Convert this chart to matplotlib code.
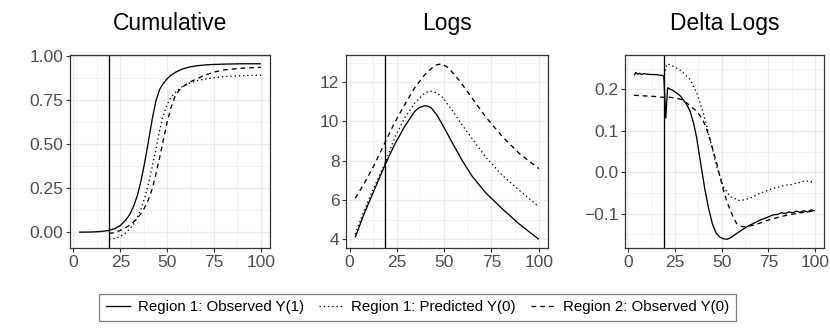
import numpy as np
import matplotlib
matplotlib.use("Agg")
import matplotlib.pyplot as plt
from matplotlib.lines import Line2D

plt.rcParams['font.family'] = ['Liberation Sans', 'DejaVu Sans']

# ---------------------------------------------------------------- data
titles = ["Cumulative", "Logs", "Delta Logs"]
labels = ["Region 1: Observed Y(1)", "Region 1: Predicted Y(0)", "Region 2: Observed Y(0)"]
intervention = 19

# Cumulative
cum_obs_x = [3, 10, 15, 19, 22, 25, 28, 30, 32, 34, 36, 38, 40, 42, 44, 46, 48, 50, 52, 55, 58, 62, 66, 72, 80, 90, 100]
cum_obs_y = [0.000, 0.001, 0.004, 0.010, 0.020, 0.038, 0.070, 0.100, 0.145, 0.205, 0.290, 0.395, 0.515, 0.640,
             0.745, 0.810, 0.845, 0.870, 0.890, 0.910, 0.925, 0.937, 0.944, 0.950, 0.953, 0.955, 0.955]
cum_pred_x = [19, 21, 23, 25, 28, 30, 32, 34, 36, 38, 40, 42, 44, 46, 48, 50, 52, 55, 58, 62, 67, 73, 80, 90, 100]
cum_pred_y = [-0.040, -0.038, -0.033, -0.024, -0.003, 0.018, 0.045, 0.082, 0.130, 0.195, 0.275, 0.370, 0.470,
              0.580, 0.665, 0.725, 0.765, 0.800, 0.825, 0.845, 0.862, 0.873, 0.882, 0.888, 0.890]
cum_r2_x = [19, 22, 25, 28, 30, 32, 34, 36, 38, 40, 42, 44, 46, 48, 50, 52, 54, 56, 58, 61, 65, 70, 75, 80, 90, 100]
cum_r2_y = [-0.008, -0.002, 0.010, 0.027, 0.040, 0.057, 0.078, 0.105, 0.140, 0.185, 0.245, 0.330, 0.425, 0.525,
            0.625, 0.705, 0.765, 0.800, 0.822, 0.845, 0.866, 0.890, 0.908, 0.920, 0.930, 0.935]

# Logs
log_obs_x = [3, 7.7, 13, 18.7, 23.7, 29.1, 34.4, 37, 39.8, 41.5, 43.3, 46, 48.7, 54, 59.4, 64.7, 71.8, 80.7, 89.7, 100]
log_obs_y = [4.09, 5.29, 6.49, 7.77, 8.80, 9.74, 10.51, 10.72, 10.80, 10.78, 10.68, 10.35, 9.91, 8.97, 8.03,
             7.22, 6.38, 5.55, 4.77, 4.00]
log_pred_x = [3, 7.7, 13, 18.7, 23.7, 29.1, 34.4, 39.8, 41.5, 43.7, 46, 48.7, 54, 59.4, 64.7, 71.8, 80.7, 89.7, 100]
log_pred_y = [4.26, 5.46, 6.66, 7.85, 9.14, 10.17, 10.94, 11.45, 11.52, 11.54, 11.45, 11.28, 10.60, 9.83, 9.14,
              8.20, 7.26, 6.49, 5.66]
log_r2_x = [3, 7.7, 13, 18.7, 23.7, 29.1, 34.4, 39.8, 45.1, 48.7, 52.2, 57.6, 64.7, 71.8, 80.7, 89.7, 100]
log_r2_y = [6.09, 6.83, 7.77, 8.92, 9.91, 10.85, 11.71, 12.39, 12.86, 12.94, 12.74, 12.14, 11.20, 10.25, 9.23,
            8.37, 7.60]

# Delta Logs
dl_obs_x = [3, 4, 5, 6, 7, 8, 10, 12, 14, 16, 18, 19, 20, 21, 24, 27.7, 31, 33, 35, 36.5, 38, 39.5, 41, 43, 45,
            47, 49, 51, 53, 55, 58, 63.4, 70.5, 77.7, 80, 82, 84, 86, 88, 90, 92, 94, 96, 98, 100]
dl_obs_y = [0.234, 0.241, 0.237, 0.239, 0.236, 0.238, 0.237, 0.236, 0.236, 0.235, 0.234, 0.232, 0.131, 0.204,
            0.197, 0.185, 0.165, 0.148, 0.117, 0.085, 0.042, 0.000, -0.042, -0.088, -0.125, -0.147, -0.157,
            -0.161, -0.162, -0.158, -0.148, -0.132, -0.116, -0.103, -0.102, -0.098, -0.100, -0.096, -0.098,
            -0.094, -0.097, -0.093, -0.096, -0.091, -0.094]
dl_pred_x = [19, 20, 21, 24, 28.6, 33, 36.6, 40.2, 43.8, 47.3, 50.9, 54.5, 59.8, 65.2, 70.5, 77.7, 84.8, 88, 90,
             92, 94, 95.5, 97, 98.5, 100]
dl_pred_y = [0.225, 0.255, 0.262, 0.256, 0.244, 0.224, 0.192, 0.143, 0.078, 0.014, -0.035, -0.059, -0.069,
             -0.063, -0.051, -0.039, -0.031, -0.030, -0.026, -0.025, -0.022, -0.021, -0.024, -0.023, -0.025]
dl_r2_x = [3, 6, 10, 14, 18.4, 22, 25.9, 28.5, 31.3, 34, 36.6, 38.5, 40.2, 42, 43.8, 45.5, 47.3, 49, 50.9, 52.7,
           54.5, 56.3, 58, 59.8, 61.6, 64, 67, 70.5, 74.1, 77.7, 81.3, 84.8, 88.4, 92, 96, 100]
dl_r2_y = [0.186, 0.185, 0.184, 0.183, 0.181, 0.181, 0.179, 0.175, 0.167, 0.157, 0.147, 0.136, 0.123, 0.103,
           0.078, 0.051, 0.022, -0.010, -0.043, -0.070, -0.091, -0.110, -0.124, -0.130, -0.132, -0.131, -0.128,
           -0.123, -0.117, -0.112, -0.108, -0.104, -0.101, -0.098, -0.096, -0.093]

panels = [
    [(cum_obs_x, cum_obs_y), (cum_pred_x, cum_pred_y), (cum_r2_x, cum_r2_y)],
    [(log_obs_x, log_obs_y), (log_pred_x, log_pred_y), (log_r2_x, log_r2_y)],
    [(dl_obs_x, dl_obs_y), (dl_pred_x, dl_pred_y), (dl_r2_x, dl_r2_y)],
]
yticks = [[0, 0.25, 0.5, 0.75, 1.0], [4, 6, 8, 10, 12], [-0.1, 0.0, 0.1, 0.2]]
ytick_labels = [["0.00", "0.25", "0.50", "0.75", "1.00"], ["4", "6", "8", "10", "12"],
                ["\u22120.1", "0.0", "0.1", "0.2"]]
xticks = [0, 25, 50, 75, 100]

# ---------------------------------------------------------------- plot
W, H = 830, 332
fig = plt.figure(figsize=(W / 100, H / 100), dpi=100)
lefts = [70, 346, 625]
widths = [200, 202, 199]
top_px, bot_px = 55, 248

styles = [dict(ls='-'), dict(ls=(0, (1, 2.2))), dict(ls=(0, (3.6, 3.0)))]
lw = 0.95
grid_col = '#EBEBEB'
frame_col = '#333333'
text_col = '#4D4D4D'

def expand(lo, hi, f=0.05):
    d = (hi - lo) * f
    return lo - d, hi + d

def minors(major, lo, hi):
    step = major[1] - major[0]
    cand = [major[0] - step / 2] + [m + step / 2 for m in major]
    return [c for c in cand if lo <= c <= hi]

for i in range(3):
    ax = fig.add_axes([lefts[i] / W, (H - bot_px) / H, widths[i] / W, (bot_px - top_px) / H])
    allx, ally = [], []
    for (xs, ys), st in zip(panels[i], styles):
        ax.plot(xs, ys, color='black', lw=lw, solid_capstyle='butt', dash_capstyle='butt', **st)
        allx += xs
        ally += ys
    ax.axvline(intervention, color='black', lw=lw)
    xl = expand(min(allx), max(allx))
    yl = expand(min(ally), max(ally))
    ax.set_xlim(xl)
    ax.set_ylim(yl)
    ax.set_xticks(xticks)
    ax.set_xticklabels([str(t) for t in xticks])
    ax.set_yticks(yticks[i])
    ax.set_yticklabels(ytick_labels[i])
    ax.set_xticks(minors(xticks, *xl), minor=True)
    ax.set_yticks(minors(yticks[i], *yl), minor=True)
    ax.grid(True, which='major', color=grid_col, lw=0.9)
    ax.grid(True, which='minor', color=grid_col, lw=0.45)
    ax.set_axisbelow(True)
    ax.tick_params(which='major', length=3.2, width=0.8, color=frame_col, labelsize=12.5,
                   labelcolor=text_col, pad=1.5)
    ax.tick_params(which='minor', length=0)
    for s in ax.spines.values():
        s.set_color(frame_col)
        s.set_linewidth(0.9)
    fig.text((lefts[i] + widths[i] / 2) / W, (H - 30) / H, titles[i], ha='center', va='baseline',
             fontsize=16.5, color='black')

handles = [Line2D([], [], color='black', lw=lw, **st) for st in styles]
fig.legend(handles, labels, loc='center', bbox_to_anchor=((98 + 737) / 2 / W, (H - 307.5) / H), ncol=3,
           fontsize=10.8, frameon=True, fancybox=False, edgecolor='#7F7F7F', framealpha=1,
           handlelength=1.6, handletextpad=0.55, columnspacing=1.0, borderpad=0.45,
           borderaxespad=0)
fig.legends[0].get_frame().set_linewidth(0.9)

fig.savefig('out.png', dpi=100)
